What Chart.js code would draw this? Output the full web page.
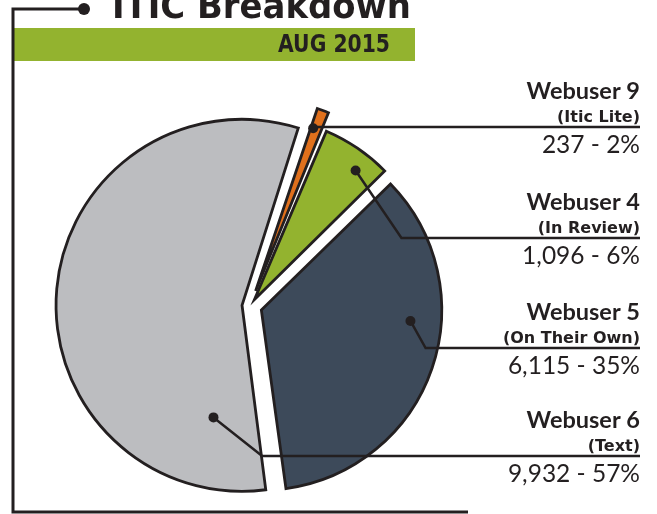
<!DOCTYPE html>
<html>
<head>
<meta charset="utf-8">
<script src="https://cdn.jsdelivr.net/npm/chart.js@4/dist/chart.umd.min.js"></script>
<style>
  html, body { margin: 0; padding: 0; background: #fff; }
  canvas { display: block; }
</style>
</head>
<body>
<canvas id="iticChart" width="657" height="514"></canvas>
<script>
// data, in clockwise order from the top of the pie
const users = ["Webuser 9", "Webuser 4", "Webuser 5", "Webuser 6"];
const groups = ["(Itic Lite)", "(In Review)", "(On Their Own)", "(Text)"];
const counts = [237, 1096, 6115, 9932];
const shares = [2, 6, 35, 57];

const title = "ITIC Breakdown";
const period = "AUG 2015";

const ink = "#231f20";
const sliceColors = ["#e0701c", "#93b32f", "#3d4a5a", "#bcbdc0"];
const sliceOffsets = [64, 32, 48, 32];

// where the leader dot sits inside each slice (angle fraction, radius fraction)
const dotSpots = [[0.3, 0.97], [0.67, 0.92], [0.384, 0.84], [0.107, 0.65]];
// label line rows and how far the leader slants before going flat
const labelRows = [127, 238, 348, 456];
const slants = [0, 0.68, 0.56, 1.26];
const labelRight = 640;

const decorations = {
  id: "decorations",
  beforeDraw(chart) {
    const ctx = chart.ctx;
    ctx.save();
    // green band
    ctx.fillStyle = "#93b32f";
    ctx.fillRect(14, 28, 401, 33);
    // frame
    ctx.strokeStyle = ink;
    ctx.lineWidth = 3;
    ctx.beginPath();
    ctx.moveTo(84, 9);
    ctx.lineTo(13, 9);
    ctx.lineTo(13, 512);
    ctx.lineTo(468, 512);
    ctx.stroke();
    ctx.fillStyle = ink;
    ctx.beginPath();
    ctx.arc(84, 9, 6, 0, Math.PI * 2);
    ctx.fill();
    // titles
    ctx.textAlign = "right";
    ctx.textBaseline = "alphabetic";
    ctx.font = "bold 36px 'DejaVu Sans'";
    ctx.fillText(title, 411, 18, 299);
    ctx.font = "bold 25px 'DejaVu Sans'";
    ctx.fillText(period, 390, 52, 112);
    ctx.restore();
  },
  afterDraw(chart) {
    const ctx = chart.ctx;
    const arcs = chart.getDatasetMeta(0).data;
    ctx.save();
    ctx.strokeStyle = ink;
    ctx.fillStyle = ink;
    ctx.lineWidth = 2.5;
    ctx.lineJoin = "miter";
    arcs.forEach((arc, i) => {
      const p = arc.getProps(["x", "y", "startAngle", "endAngle", "outerRadius"]);
      const half = (p.startAngle + p.endAngle) / 2;
      const shift = sliceOffsets[i] / 4;
      const a = p.startAngle + dotSpots[i][0] * (p.endAngle - p.startAngle);
      const r = dotSpots[i][1] * p.outerRadius;
      const dx = p.x + Math.cos(half) * shift + Math.cos(a) * r;
      const dy = p.y + Math.sin(half) * shift + Math.sin(a) * r;
      const rowY = labelRows[i];
      const elbowX = dx + (rowY - dy) * slants[i];

      ctx.beginPath();
      ctx.moveTo(dx, dy);
      ctx.lineTo(elbowX, rowY);
      ctx.lineTo(labelRight, rowY);
      ctx.stroke();
      ctx.beginPath();
      ctx.arc(dx, dy, 5, 0, Math.PI * 2);
      ctx.fill();

      ctx.textAlign = "right";
      ctx.font = "bold 23.5px Lato";
      ctx.fillText(users[i], labelRight, rowY - 28);
      ctx.font = "bold 16px 'DejaVu Sans'";
      ctx.fillText(groups[i], labelRight, rowY - 5);
      ctx.font = "24.5px Lato";
      ctx.fillText(counts[i].toLocaleString("en-US") + " - " + shares[i] + "%", labelRight, rowY + 26);
    });
    ctx.restore();
  },
};

const ctx = document.getElementById("iticChart");
new Chart(ctx, {
  type: "pie",
  data: {
    labels: users,
    datasets: [
      {
        data: counts,
        backgroundColor: sliceColors,
        borderColor: ink,
        borderWidth: 2.8,
        borderJoinStyle: "miter",
        offset: sliceOffsets,
        hoverOffset: 0,
      },
    ],
  },
  options: {
    responsive: false,
    animation: false,
    rotation: 18,
    radius: 178,
    layout: { padding: { left: 0, right: 157, top: 98, bottom: 0 } },
    events: [],
    plugins: {
      legend: { display: false },
      tooltip: { enabled: false },
    },
  },
  plugins: [decorations],
});
</script>
</body>
</html>
